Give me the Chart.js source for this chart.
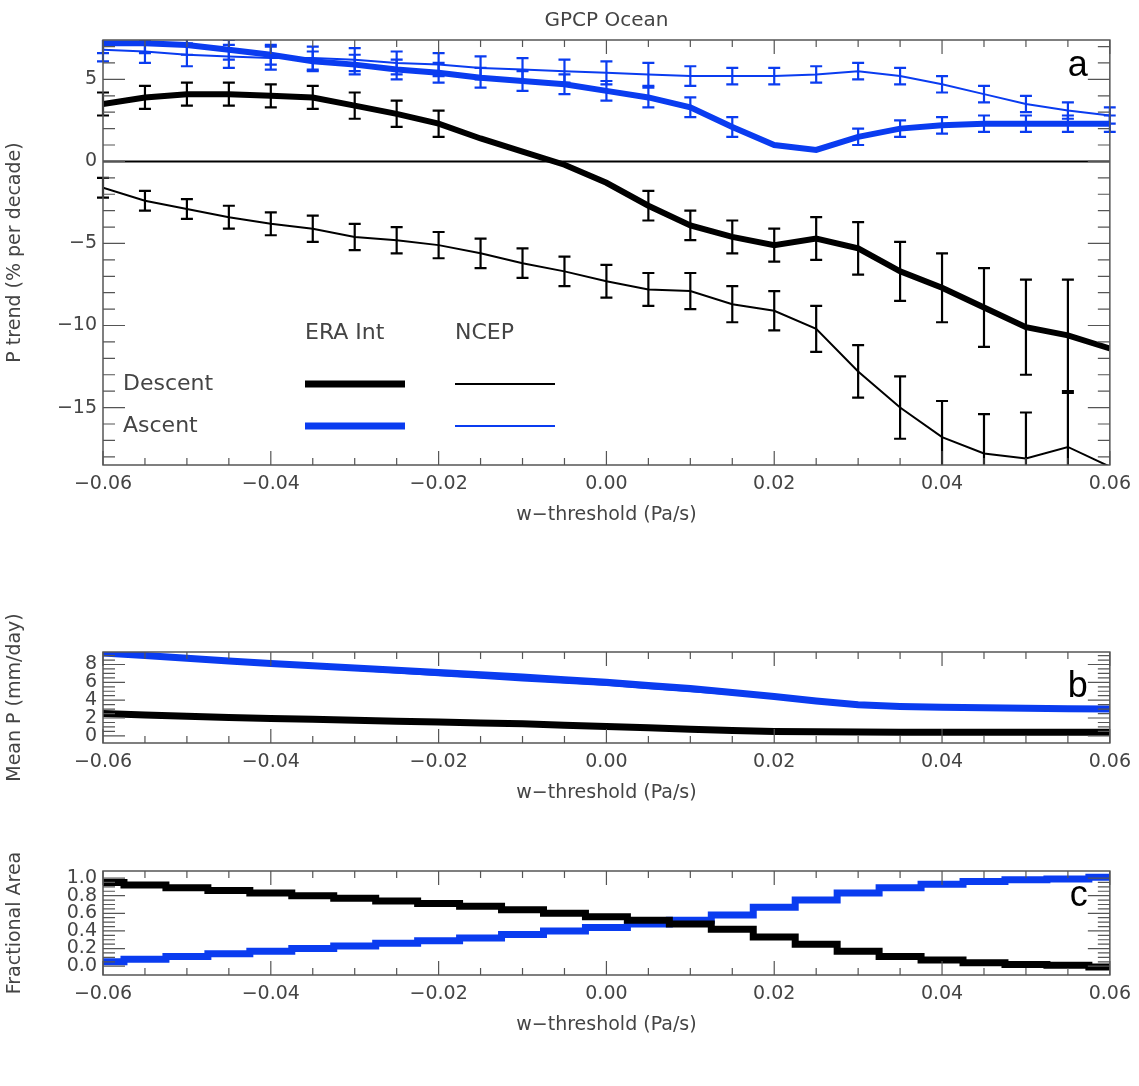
<!DOCTYPE html>
<html><head><meta charset="utf-8">
<script src="https://cdn.jsdelivr.net/npm/chart.js@4"></script>
<style>body{margin:0;background:#fff;width:1139px;height:1086px;position:relative;overflow:hidden}
.c{position:absolute;left:0}</style></head><body>
<div class="c" style="top:0;width:1139px;height:530px"><canvas id="a"></canvas></div>
<div class="c" style="top:590px;width:1139px;height:218px"><canvas id="b"></canvas></div>
<div class="c" style="top:830px;width:1139px;height:210px"><canvas id="cc"></canvas></div>
<script>
const wThreshold=[-0.06,-0.055,-0.05,-0.045,-0.04,-0.035,-0.03,-0.025,-0.02,-0.015,-0.01,-0.005,0,0.005,0.01,0.015,0.02,0.025,0.03,0.035,0.04,0.045,0.05,0.055,0.06];
// Panel a: trends
const eraDescent=[3.5,3.9,4.1,4.1,4.0,3.9,3.4,2.9,2.3,1.4,0.6,-0.2,-1.3,-2.7,-3.9,-4.6,-5.1,-4.7,-5.3,-6.7,-7.7,-8.9,-10.1,-10.6,-11.4];
const eraDescentErr=[0.7,0.7,0.7,0.7,0.7,0.7,0.8,0.8,0.8,null,null,null,null,0.9,0.9,1.0,1.0,1.3,1.6,1.8,2.1,2.4,2.9,3.4,null];
const ncepDescent=[-1.6,-2.4,-2.9,-3.4,-3.8,-4.1,-4.6,-4.8,-5.1,-5.6,-6.2,-6.7,-7.3,-7.8,-7.9,-8.7,-9.1,-10.2,-12.8,-15.0,-16.8,-17.8,-18.1,-17.4,-18.6];
const ncepDescentErr=[0.6,0.6,0.6,0.7,0.7,0.8,0.8,0.8,0.8,0.9,0.9,0.9,1.0,1.0,1.1,1.1,1.2,1.4,1.6,1.9,2.2,2.4,2.8,3.3,null];
const eraAscent=[7.2,7.2,7.1,6.8,6.5,6.1,5.9,5.6,5.4,5.1,4.9,4.7,4.3,3.9,3.3,2.1,1.0,0.7,1.5,2.0,2.2,2.3,2.3,2.3,2.3];
const eraAscentErr=[0.6,0.6,0.6,0.6,0.6,0.6,0.6,0.6,0.6,0.6,0.6,0.6,0.6,0.6,0.6,0.6,null,null,0.5,0.5,0.5,0.5,0.5,0.5,0.5];
const ncepAscent=[6.8,6.7,6.5,6.4,6.3,6.3,6.2,6.0,5.9,5.7,5.6,5.5,5.4,5.3,5.2,5.2,5.2,5.3,5.5,5.2,4.7,4.1,3.5,3.1,2.8];
const ncepAscentErr=[0.7,0.7,0.7,0.7,0.7,0.7,0.7,0.7,0.7,0.7,0.7,0.7,0.7,0.7,0.6,0.5,0.5,0.5,0.5,0.5,0.5,0.5,0.5,0.5,0.5];
// Panel b: mean precipitation
const meanPAscentEra=[9.3,9.0,8.7,8.4,8.1,7.85,7.6,7.35,7.1,6.85,6.6,6.3,6.0,5.65,5.3,4.85,4.4,3.9,3.5,3.3,3.2,3.15,3.1,3.05,3.0];
const meanPAscentNcep=[9.3,8.95,8.6,8.3,8.0,7.7,7.4,7.1,6.8,6.5,6.2,5.95,5.7,5.35,5.0,4.65,4.3,3.9,3.5,3.3,3.2,3.15,3.1,3.05,3.0];
const meanPDescentEra=[2.5,2.35,2.2,2.05,1.95,1.85,1.75,1.65,1.55,1.45,1.35,1.2,1.05,0.9,0.75,0.6,0.5,0.45,0.42,0.4,0.4,0.4,0.4,0.4,0.4];
const meanPDescentNcep=[2.4,2.25,2.1,1.95,1.85,1.75,1.65,1.55,1.45,1.35,1.25,1.1,0.95,0.8,0.65,0.55,0.45,0.42,0.4,0.4,0.4,0.4,0.4,0.4,0.4];
// Panel c: fractional area
const areaDescentEra=[0.95,0.92,0.89,0.86,0.83,0.80,0.77,0.74,0.71,0.68,0.64,0.60,0.56,0.52,0.48,0.42,0.33,0.25,0.17,0.11,0.07,0.04,0.02,0.01,-0.01];
const areaDescentNcep=[0.94,0.91,0.88,0.85,0.82,0.79,0.76,0.73,0.70,0.67,0.62,0.58,0.54,0.50,0.46,0.40,0.33,0.25,0.17,0.11,0.07,0.04,0.02,0.0,-0.02];
const areaAscentEra=[0.05,0.08,0.11,0.14,0.17,0.20,0.23,0.26,0.29,0.32,0.36,0.40,0.44,0.48,0.52,0.58,0.67,0.75,0.83,0.89,0.93,0.96,0.98,0.99,1.01];
const areaAscentNcep=[0.03,0.06,0.09,0.13,0.16,0.19,0.22,0.25,0.28,0.31,0.37,0.41,0.45,0.49,0.54,0.60,0.67,0.75,0.83,0.89,0.93,0.96,0.98,0.99,1.0];
const xTicks=[-0.06,-0.04,-0.02,0,0.02,0.04,0.06];

const BLUE='#0a3cf0', TXT='#444', FONT='"DejaVu Sans"';
const pts=a=>a.map((v,i)=>({x:wThreshold[i],y:v}));

function ticksPlugin(minorX,minorY,letter,extra){
 return {id:'p'+letter,afterDatasetsDraw(ch){
  const {ctx,chartArea:ca,scales:{x,y}}=ch;ctx.save();
  if(extra)extra(ch);
  ctx.strokeStyle='#555';ctx.lineWidth=1.5;ctx.strokeRect(ca.left,ca.top,ca.right-ca.left,ca.bottom-ca.top);
  ctx.lineWidth=1.2;
  for(let v=-0.06;v<=0.0601;v+=minorX){const px=x.getPixelForValue(v);const maj=Math.abs(Math.round(v/0.02)*0.02-v)<1e-6;const L=maj?14:7;
   ctx.beginPath();ctx.moveTo(px,ca.bottom);ctx.lineTo(px,ca.bottom-L);ctx.moveTo(px,ca.top);ctx.lineTo(px,ca.top+L);ctx.stroke();}
  for(const [v,maj] of minorY){const py=y.getPixelForValue(v);if(py<ca.top-0.5||py>ca.bottom+0.5)continue;const L=maj?22:12;
   ctx.beginPath();ctx.moveTo(ca.left,py);ctx.lineTo(ca.left+L,py);ctx.moveTo(ca.right,py);ctx.lineTo(ca.right-L,py);ctx.stroke();}
  ctx.fillStyle='#000';ctx.font='36px "Liberation Sans"';ctx.textAlign='right';ctx.textBaseline='middle';
  ctx.fillText(letter,ca.right-22,letter==='a'?y.getPixelForValue(5.8):letter==='b'?y.getPixelForValue(5.5):y.getPixelForValue(0.8));
  ctx.restore();}};
}
function xScale(){return {type:'linear',min:-0.06,max:0.06,afterBuildTicks:s=>{s.ticks=xTicks.map(v=>({value:v}));},
 afterFit:s=>{s.height=65;},grid:{display:false,drawTicks:false},border:{display:false},
 ticks:{autoSkip:false,maxRotation:0,color:TXT,font:{family:FONT,size:19},padding:8,callback:v=>(v<0?'\u2212':'')+Math.abs(v).toFixed(2)},
 title:{display:true,text:'w\u2212threshold (Pa/s)',color:TXT,font:{family:FONT,size:19},padding:{top:0}}};}
function yScale(min,max,ticks,fmt,title){return {type:'linear',min,max,afterBuildTicks:s=>{s.ticks=ticks.map(v=>({value:v}));},
 afterFit:s=>{s.width=103;},grid:{display:false,drawTicks:false},border:{display:false},
 ticks:{autoSkip:false,color:TXT,font:{family:FONT,size:19},padding:6,callback:fmt},
 title:{display:true,text:title,color:TXT,font:{family:FONT,size:19},padding:{bottom:0}}};}
function line(data,color,w,step){return {data:pts(data),borderColor:color,borderWidth:w,pointRadius:0,fill:false,tension:0,stepped:step||false};}

function errDraw(ch){const {ctx,scales:{x,y}}=ch;
 [[eraDescent,eraDescentErr,'#000'],[ncepDescent,ncepDescentErr,'#000'],[eraAscent,eraAscentErr,BLUE],[ncepAscent,ncepAscentErr,BLUE]].forEach(([v,e,c])=>{
  ctx.strokeStyle=c;ctx.lineWidth=2.2;
  v.forEach((val,i)=>{if(e[i]==null)return;const px=x.getPixelForValue(wThreshold[i]);
   const y1=y.getPixelForValue(val+e[i]),y2=y.getPixelForValue(val-e[i]);
   ctx.save();ctx.beginPath();ctx.rect(ch.chartArea.left-6,ch.chartArea.top,ch.chartArea.width+12,ch.chartArea.height);ctx.clip();
   ctx.beginPath();ctx.moveTo(px,y1);ctx.lineTo(px,y2);ctx.moveTo(px-6,y1);ctx.lineTo(px+6,y1);ctx.moveTo(px-6,y2);ctx.lineTo(px+6,y2);ctx.stroke();ctx.restore();});});
}
const zeroPlugin={id:'zero',beforeDatasetsDraw(ch){const {ctx,chartArea:ca,scales:{y}}=ch;const py=y.getPixelForValue(0);
 ctx.save();ctx.strokeStyle='#000';ctx.lineWidth=2;ctx.beginPath();ctx.moveTo(ca.left,py);ctx.lineTo(ca.right,py);ctx.stroke();ctx.restore();}};
const legendPlugin={id:'leg',afterDatasetsDraw(ch){const ctx=ch.ctx;ctx.save();
 ctx.fillStyle=TXT;ctx.font='22px '+FONT;ctx.textBaseline='middle';ctx.textAlign='left';
 ctx.fillText('ERA Int',305,333);ctx.fillText('NCEP',455,333);ctx.fillText('Descent',123,384);ctx.fillText('Ascent',123,426);
 [[384,'#000'],[426,BLUE]].forEach(([yy,c])=>{ctx.strokeStyle=c;ctx.lineWidth=7;ctx.beginPath();ctx.moveTo(305,yy);ctx.lineTo(405,yy);ctx.stroke();
  ctx.lineWidth=2;ctx.beginPath();ctx.moveTo(455,yy);ctx.lineTo(555,yy);ctx.stroke();});
 ctx.fillStyle=TXT;ctx.textAlign='center';ctx.textBaseline='alphabetic';ctx.font='20px '+FONT;
 ctx.fillText('GPCP Ocean',(ch.chartArea.left+ch.chartArea.right)/2,26);ctx.restore();}};

const common={responsive:true,maintainAspectRatio:false,animation:false,plugins:{legend:{display:false},tooltip:{enabled:false}},devicePixelRatio:1};
const yMinorA=[];for(let v=-18;v<=7;v++)yMinorA.push([v,v%5===0]);
new Chart(document.getElementById('a'),{type:'line',data:{datasets:[
 line(eraDescent,'#000',6),line(ncepDescent,'#000',2),line(eraAscent,BLUE,6),line(ncepAscent,BLUE,2)]},
 options:{...common,layout:{padding:{top:40,right:29,left:0,bottom:0}},
 scales:{x:xScale(),y:yScale(-18.5,7.4,[-15,-10,-5,0,5],v=>(v<0?'\u2212':'')+Math.abs(v),'P trend (% per decade)')}},
 plugins:[zeroPlugin,legendPlugin,ticksPlugin(0.005,yMinorA,'a',errDraw)]});

const yMinorB=[];for(let v=0;v<=9;v+=0.5)yMinorB.push([v,Math.abs(v%2)<1e-6]);
new Chart(document.getElementById('b'),{type:'line',data:{datasets:[
 line(meanPDescentEra,'#000',7),line(meanPDescentNcep,'#000',2),line(meanPAscentEra,BLUE,7),line(meanPAscentNcep,BLUE,2)]},
 options:{...common,layout:{padding:{top:62,right:29}},
 scales:{x:xScale(),y:yScale(-0.8,9.4,[0,2,4,6,8],v=>String(v),'Mean P (mm/day)')}},
 plugins:[ticksPlugin(0.005,yMinorB,'b')]});

const yMinorC=[];for(let i=0;i<=20;i++)yMinorC.push([i*0.05,i%4===0]);
new Chart(document.getElementById('cc'),{type:'line',data:{datasets:[
 line(areaDescentEra,'#000',7,'middle'),line(areaDescentNcep,'#000',2,'middle'),line(areaAscentEra,BLUE,7,'middle'),line(areaAscentNcep,BLUE,2,'middle')]},
 options:{...common,layout:{padding:{top:41,right:29}},
 scales:{x:xScale(),y:yScale(-0.1,1.08,[0,0.2,0.4,0.6,0.8,1.0],v=>v.toFixed(1),'Fractional Area')}},
 plugins:[ticksPlugin(0.005,yMinorC,'c')]});
</script></body></html>
